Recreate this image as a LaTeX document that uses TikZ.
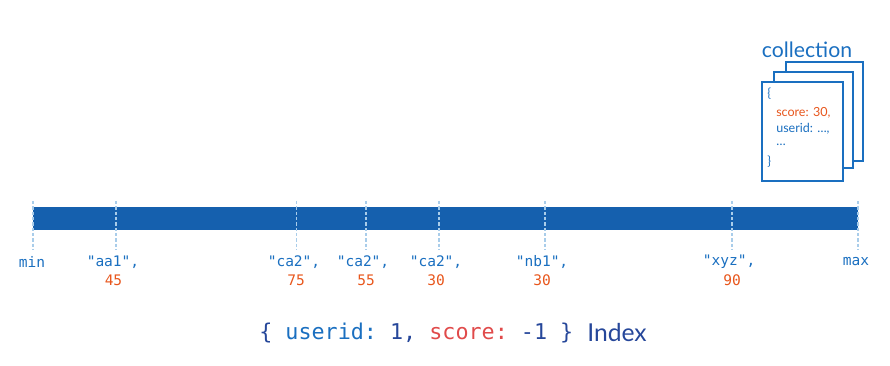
\documentclass[tikz,border=0pt]{standalone}
\usepackage{fontspec}
\setmainfont{Lato}
\setmonofont{DejaVu Sans Mono}
\usetikzlibrary{positioning}

\definecolor{barblue}{HTML}{1560AE}
\definecolor{txtblue}{HTML}{1A6FC0}
\definecolor{tickblue}{HTML}{A9CDEA}
\definecolor{numorange}{HTML}{E8561C}
\definecolor{keyred}{HTML}{E04A4A}
\definecolor{idxblue}{HTML}{26479A}

\tikzset{
  tick/.style={tickblue, line width=1.1pt, dash pattern=on 2.5pt off 1.5pt},
  keylbl/.style={txtblue, font=\ttfamily\fontsize{10.9}{12}\selectfont, inner sep=0pt},
  numlbl/.style={numorange, font=\ttfamily\fontsize{10.9}{12}\selectfont, inner sep=0pt},
  docpage/.style={draw=txtblue, line width=0.9pt, fill=white},
  doctext/.style={font=\fontsize{9.4}{11}\selectfont, inner sep=0pt, anchor=west}
}

\begin{document}
\begin{tikzpicture}[x=0.75pt,y=-0.75pt]
  \useasboundingbox (0,0) rectangle (890,366);

  % Draw the collection of documents
  \node[txtblue, font=\fontsize{15.9}{18}\selectfont, inner sep=0pt] (coll) at (807,50) {collection};
  \filldraw[docpage] (786,62) rectangle (863,161);
  \filldraw[docpage] (774,72) rectangle (853,168);
  \filldraw[docpage] (762,82) rectangle (843,181);
  \node[doctext, txtblue] (ob) at (767,94) {\{};
  \node[doctext, numorange] (sc) at (776,113) {score: 30,};
  \node[doctext, txtblue] (ui) at (776,129) {userid: \dots,};
  \node[doctext, txtblue] (dt) at (776,145) {\dots};
  \node[doctext, txtblue] (cb) at (767,162) {\}};

  % Draw the index bar
  \fill[barblue] (33,207) rectangle (858,230);

  % Draw the ticks
  \draw[tick] (33,201) -- (33,250);
  \draw[tick] (116,201) -- (116,250);
  \draw[tick] (296.5,201) -- (296.5,250);
  \draw[tick] (366,201) -- (366,250);
  \draw[tick] (439,201) -- (439,250);
  \draw[tick] (545,201) -- (545,250);
  \draw[tick] (732,201) -- (732,250);
  \draw[tick] (858,201) -- (858,250);

  % Draw the keys
  \node[keylbl] (min) at (32,262) {min};
  \node[keylbl] (k1) at (113,262) {"aa1",};
  \node[keylbl] (k2) at (294,262) {"ca2",};
  \node[keylbl] (k3) at (363,262) {"ca2",};
  \node[keylbl] (k4) at (436,262) {"ca2",};
  \node[keylbl] (k5) at (542,262) {"nb1",};
  \node[keylbl] (k6) at (729,262) {"xyz",};
  \node[keylbl] (max) at (856,262) {max};

  \node[numlbl] (n1) at (113.5,280) {45};
  \node[numlbl] (n2) at (296,280) {75};
  \node[numlbl] (n3) at (366,280) {55};
  \node[numlbl] (n4) at (436,280) {30};
  \node[numlbl] (n5) at (542,280) {30};
  \node[numlbl] (n6) at (732,280) {90};

  % Draw the index name
  \node[inner sep=0pt, anchor=west, font=\ttfamily\fontsize{16.3}{18}\selectfont] (spec) at (259,333)
    {\textcolor{idxblue}{\{} \textcolor{txtblue}{userid:} \textcolor{idxblue}{1,} \textcolor{keyred}{score:} \textcolor{idxblue}{-1 \}}};
  \node[idxblue, inner sep=0pt, anchor=west, font=\fontsize{18.5}{20}\selectfont] (idx) at (587,333) {Index};
\end{tikzpicture}
\end{document}
